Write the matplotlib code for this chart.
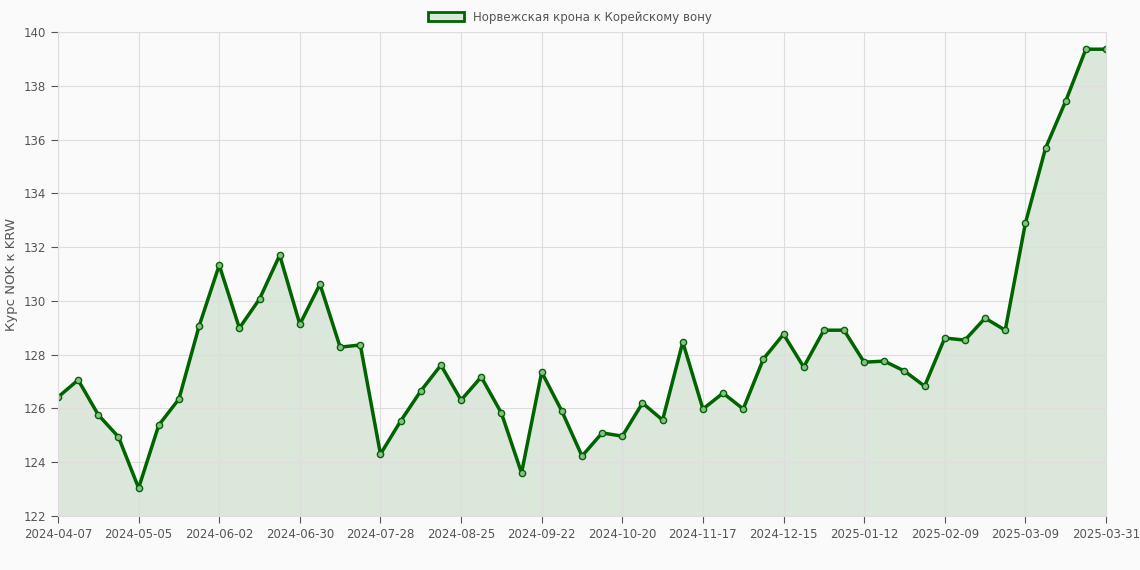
import matplotlib.pyplot as plt
import numpy as np
from matplotlib.patches import Patch

# weekly NOK->KRW rate, 2024-04-07 .. 2025-03-31
rates = [126.42, 127.06, 125.76, 124.94, 123.04, 125.38, 126.35, 129.06, 131.33, 128.99,
         130.07, 131.70, 129.13, 130.62, 128.28, 128.36, 124.30, 125.53, 126.65, 127.61,
         126.31, 127.17, 125.83, 123.60, 127.35, 125.90, 124.23, 125.09, 124.97, 126.20,
         125.57, 128.47, 125.98, 126.57, 125.98, 127.84, 128.76, 127.54, 128.91, 128.91,
         127.72, 127.76, 127.39, 126.83, 128.62, 128.54, 129.36, 128.91, 132.89, 135.68,
         137.43, 139.36, 139.36]
tick_labels = ['2024-04-07', '2024-05-05', '2024-06-02', '2024-06-30', '2024-07-28',
               '2024-08-25', '2024-09-22', '2024-10-20', '2024-11-17', '2024-12-15',
               '2025-01-12', '2025-02-09', '2025-03-09', '2025-03-31']
tick_pos = list(range(0, 52, 4)) + [52]

green = '#006400'
fig = plt.figure(figsize=(11.4, 5.7), dpi=100, facecolor='#fafafa')
ax = fig.add_axes([58 / 1140, 1 - 516 / 570, (1106 - 58) / 1140, (516 - 32) / 570])
ax.set_facecolor('#fafafa')
x = np.arange(len(rates))
ax.fill_between(x, rates, 122, color=green, alpha=0.12, linewidth=0)
ax.plot(x, rates, color=green, linewidth=2.5, marker='o', markersize=4.5,
        markerfacecolor='#8fbc8f', markeredgecolor=green, markeredgewidth=1.0)
ax.set_xlim(0, 52)
ax.set_ylim(122, 140)
ax.set_yticks(range(122, 141, 2))
ax.set_xticks(tick_pos)
ax.set_xticklabels(tick_labels)
ax.grid(color='#dddddd', linewidth=0.8)
for s in ax.spines.values():
    s.set_color('#dddddd')
ax.tick_params(colors='#555555', labelsize=8.5, length=5)
ax.set_ylabel('Курс NOK к KRW', color='#555555', fontsize=9.5)

h = Patch(facecolor='#d8e8d8', edgecolor=green, linewidth=2)
fig.legend([h], ['Норвежская крона к Корейскому вону'], loc='upper center',
           bbox_to_anchor=(0.5, 1.0), frameon=False, fontsize=8.5, labelcolor='#555555',
           handlelength=3, handleheight=0.9)
fig.savefig('out.png', dpi=100, facecolor=fig.get_facecolor())
